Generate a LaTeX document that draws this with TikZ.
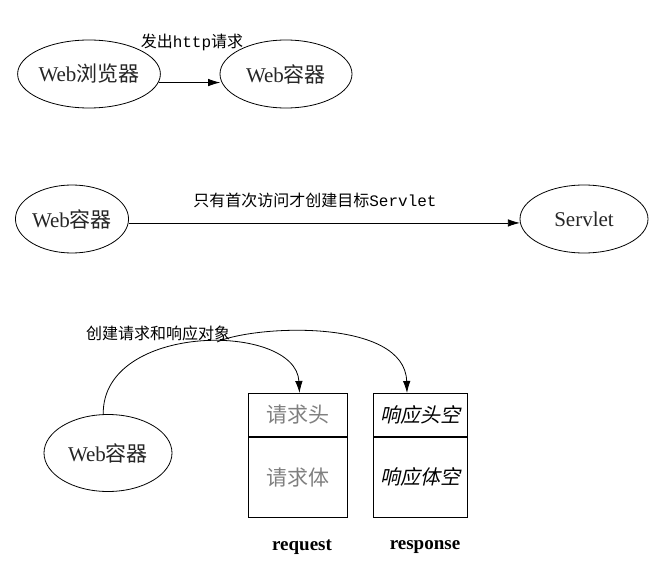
\documentclass[tikz,border=0pt]{standalone}
\usepackage{fontspec}
\setmainfont{Liberation Serif}
\newfontfamily\cjk{Noto Sans CJK SC}
\newfontfamily\cjkit[FakeSlant=0.22]{Noto Sans CJK SC}
\newfontfamily\mono{Liberation Mono}
\usetikzlibrary{shapes.geometric,arrows.meta}
\tikzset{
  ell/.style={draw, ellipse, line width=0.8pt, inner sep=0pt, text=black!85,
    font=\fontsize{21}{24}\selectfont},
  arr/.style={line width=0.8pt, -{Latex[length=12pt,width=7.5pt]}},
  lbl/.style={inner sep=0pt, font=\fontsize{16}{18}\selectfont},
  part/.style={draw, line width=0.8pt, rectangle, inner sep=0pt, anchor=north},
  grayt/.style={text=black!50, font=\cjk\fontsize{21}{24}\selectfont},
  itt/.style={text=black, font=\cjkit\fontsize{20}{24}\selectfont},
  captext/.style={inner sep=0pt, font=\bfseries\fontsize{19}{22}\selectfont}
}
\begin{document}
\begin{tikzpicture}[x=1pt,y=-1pt]
\useasboundingbox[fill=white] (0,0) rectangle (662,575);

% row 1
\node[ell, minimum width=124pt, minimum height=68pt] (b1) at (89,74) {Web{\cjk 浏览器}};
\node[ell, minimum width=132pt, minimum height=68pt] (w1) at (286,74) {Web{\cjk 容器}};
\draw[arr] (b1.-7) -- ([xshift=0.6pt]b1.-7 -| w1.west);
\node[lbl] (l1) at (192,42) {{\cjk 发出}{\mono http}{\cjk 请求}};

% row 2
\node[ell, minimum width=107pt, minimum height=68pt] (w2) at (72,219) {Web{\cjk 容器}};
\node[ell, minimum width=128pt, minimum height=68pt] (sv) at (584,219) {Servlet};
\draw[arr] (w2.-4) -- ([xshift=0.3pt]w2.-4 -| sv.west);
\node[lbl] (l2) at (315,200) {{\cjk 只有首次访问才创建目标}{\mono Servlet}};

% row 3
\node[ell, minimum width=128pt, minimum height=77pt] (w3) at (108,453) {Web{\cjk 容器}};
\node[part, minimum width=99pt, minimum height=43pt, grayt] (reqh) at (297.5,393) {请求头};
\node[part, minimum width=99pt, minimum height=80pt, grayt] (reqb) at (reqh.south) {请求体};
\node[part, minimum width=94pt, minimum height=43pt, itt] (resh) at (420,393) {响应头空};
\node[part, minimum width=94pt, minimum height=80pt, itt] (resb) at (resh.south) {响应体空};
\node[captext] (rq) at (302,547) {request};
\node[captext] (rs) at (425,547) {response};

\node[lbl] (l3) at (158,333) {\cjk 创建请求和响应对象};
\draw[arr] (w3.97) .. controls (102,322) and (296,322) .. ([xshift=2pt]reqh.north);
\coordinate (s2) at (217,342);
\draw[arr] (s2) .. controls (255,325) and (405,318) .. ([xshift=-13pt]resh.north);
\end{tikzpicture}
\end{document}
